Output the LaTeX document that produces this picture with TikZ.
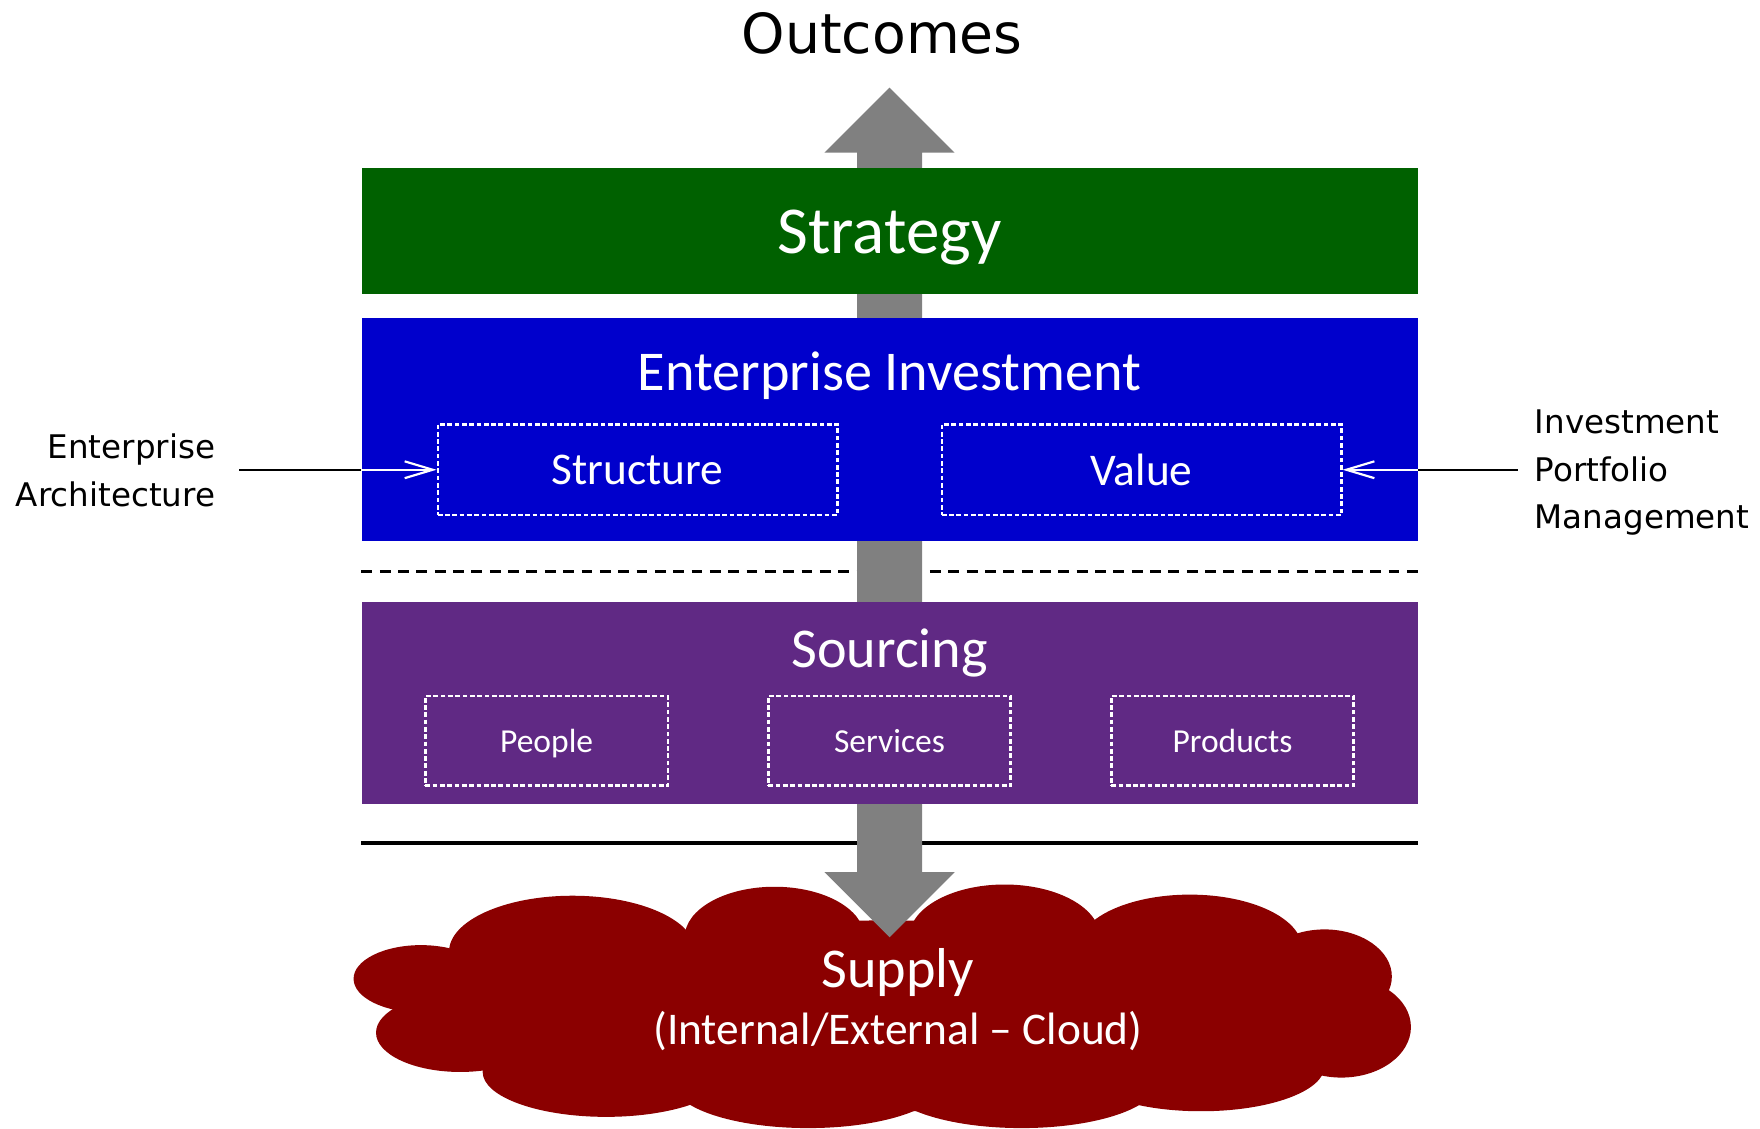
\documentclass[tikz,border=0pt]{standalone}
\definecolor{strategygreen}{RGB}{0,97,0}
\definecolor{investblue}{RGB}{0,0,204}
\definecolor{sourcingpurple}{RGB}{96,41,132}
\definecolor{supplyred}{RGB}{139,0,0}
\definecolor{flowgray}{RGB}{128,128,128}
\usepackage{fontspec}
\setmainfont{Carlito}
\newfontfamily\sidefont{DejaVu Sans}
\usepackage{tikz}
\usetikzlibrary{arrows.meta,positioning,calc}

\begin{document}
\begin{tikzpicture}[x=0.02cm,y=-0.02cm,
    layer/.style={minimum width=18.82cm,inner sep=0pt},
    part/.style={draw=white,line width=1.3pt,dash pattern=on 2.4pt off 1.3pt,inner sep=0pt},
    headline/.style={text=white,font=\fontsize{28.5}{34}\selectfont},
    sidelabel/.style={inner sep=0pt,font=\sidefont\fontsize{16.5}{23.9}\selectfont}]
    \useasboundingbox (0,0) rectangle (1568,1005);

    % Supply cloud
    \foreach \cx/\cy/\rx/\ry in {790/905/400/85, 510/848/110/50, 690/835/80/45,
        895/835/85/47, 1060/845/100/48, 1180/870/60/42, 1195/915/62/45,
        375/872/60/30, 410/920/75/35, 540/955/110/40, 720/965/120/40,
        910/965/120/40, 1070/950/110/40}
        \fill[supplyred] (\cx,\cy) ellipse [x radius=\rx, y radius=\ry];

    % Separators
    \draw[line width=1.4pt,dash pattern=on 5.5pt off 3.8pt] (322,509) -- (1263,509);
    \draw[line width=1.6pt] (322,751) -- (1263,751);

    % Flow arrow
    \fill[flowgray] (763.5,136) -- (734.5,136) -- (792.5,78) -- (850.5,136) -- (821.5,136)
        -- (821.5,777) -- (850.5,777) -- (792.5,835) -- (734.5,777) -- (763.5,777) -- cycle;

    % Layers
    \node[layer,fill=strategygreen,minimum height=2.24cm] (strategy) at (792.5,206) {};
    \node[text=white,font=\fontsize{34}{40}\selectfont] (strategytext) at (792.5,212) {Strategy};
    \node[layer,fill=investblue,minimum height=3.98cm] (inv) at (792.5,382.5) {};
    \node[headline] (invtext) at (792.5,335) {Enterprise Investment};
    \node[part,minimum width=7.12cm,minimum height=1.62cm,text=white,font=\fontsize{23}{28}\selectfont] (struct) at (568,418.5) {Structure};
    \node[part,minimum width=7.12cm,minimum height=1.62cm,text=white,font=\fontsize{23}{28}\selectfont] (value) at (1017,418.5) {Value};
    \node[layer,fill=sourcingpurple,minimum height=3.6cm] (sourcing) at (792.5,626) {};
    \node[headline] (sourcingtext) at (792.5,582) {Sourcing};
    \node[part,minimum width=4.32cm,minimum height=1.6cm,text=white,font=\fontsize{17}{21}\selectfont,text depth=0pt] (people) at (487,660) {People};
    \node[part,minimum width=4.32cm,minimum height=1.6cm,text=white,font=\fontsize{17}{21}\selectfont,text depth=0pt] (services) at (792.5,660) {Services};
    \node[part,minimum width=4.32cm,minimum height=1.6cm,text=white,font=\fontsize{17}{21}\selectfont,text depth=0pt] (products) at (1098,660) {Products};

    % Supply text
    \node[headline] (supply) at (800,866) {Supply};
    \node[text=white,font=\fontsize{23}{28}\selectfont] (supplynote) at (800,919) {(Internal/External -- Cloud)};

    % Outcomes
    \node[font=\sidefont\fontsize{28}{34}\selectfont] (outcomes) at (786,30) {Outcomes};

    % Side inputs
    \node[sidelabel,align=right,anchor=east] (ea) at (192,419) {Enterprise\\Architecture};
    \node[sidelabel,align=left,anchor=west] (ipm) at (1367,421) {Investment\\Portfolio\\Management};
    \draw[line width=1.1pt] ([xshift=0.42cm]ea.east |- struct.west) -- (struct.west -| inv.west);
    \draw[white,line width=1.1pt,-{Straight Barb[length=0.5cm,width=0.3cm]}] (struct.west -| inv.west) -- (struct.west);
    \draw[line width=1.1pt] ([xshift=-0.3cm]ipm.west |- value.east) -- (value.east -| inv.east);
    \draw[white,line width=1.1pt,-{Straight Barb[length=0.5cm,width=0.3cm]}] (value.east -| inv.east) -- (value.east);
\end{tikzpicture}
\end{document}
